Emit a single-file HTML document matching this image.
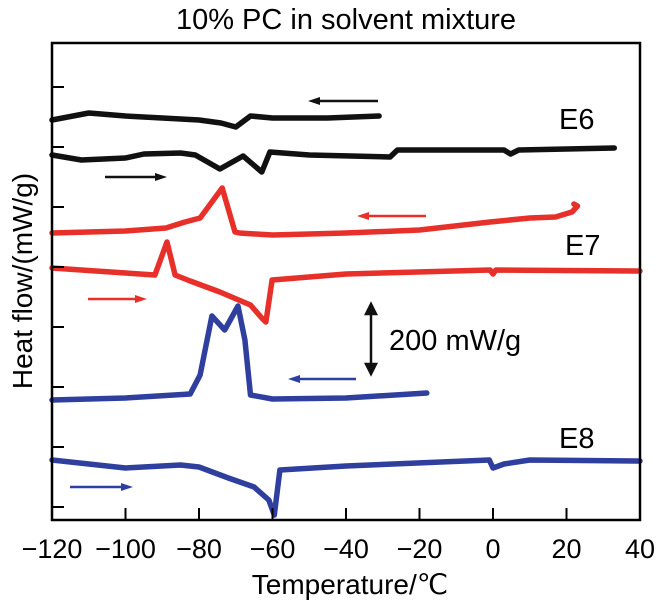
<!DOCTYPE html>
<html><head><meta charset="utf-8"><style>
body{margin:0;background:#fff}
svg{display:block;font-family:"Liberation Sans",sans-serif}
</style></head><body>
<svg id="chart" width="668" height="610" viewBox="0 0 668 610" xmlns="http://www.w3.org/2000/svg">
<text x="346" y="29" font-size="29" text-anchor="middle">10% PC in solvent mixture</text>
<g id="marks"></g>
<rect x="52" y="43" width="588" height="477" fill="none" stroke="#000" stroke-width="2.5"/>
<g id="ticks"></g>
<text transform="translate(32,281) rotate(-90)" font-size="28" text-anchor="middle">Heat flow/(mW/g)</text>
<text x="350" y="594" font-size="28" text-anchor="middle">Temperature/<tspan font-family="Liberation Serif,serif">℃</tspan></text>
<text x="559" y="129" font-size="29">E6</text>
<text x="565" y="255" font-size="29">E7</text>
<text x="559" y="448" font-size="29">E8</text>
<text x="389" y="350" font-size="29">200 mW/g</text>
<g stroke="#111" stroke-width="2.5" fill="#111">
<line x1="371" y1="310" x2="371" y2="368"/>
<polygon points="366,314 371,304 376,314"/><polygon points="366,364 371,374 376,364"/>
</g>
<g id="arrows"></g>
</svg>
<script>
const xTicks=[-120,-100,-80,-60,-40,-20,0,20,40];
const yTicks=[1,2,3,4,5,6,7,8];
// temperature (°C) and heat-flow offset (arbitrary units, 0 = bottom of frame)
const e6CoolT=[-120,-110,-100,-90,-80,-74,-70,-66,-60,-45,-31];
const e6CoolV=[400,407,404,402,400,397,393,404,402,402,404];
const e6HeatT=[-120,-112,-100,-95,-85,-81,-74.3,-68,-62.9,-60.7,-50,-28,-26,0,3,4.8,7,33];
const e6HeatV=[365,360,362,366,367,365,351,364,348,368,365,363,370,370,370,366,370,372];
const e7CoolT=[-120,-100,-89,-83.8,-79.7,-73.7,-70.2,-69,-60,-40,-20,-0.8,10,17,21.5,23,22];
const e7CoolV=[287,289,292,298,302,332,288,287,285,287,290,298,302,303,308,314,316];
const e7HeatT=[-120,-100,-92,-88.7,-86.5,-82.4,-74.3,-66,-62.9,-61.8,-60.1,-40,-0.8,0,0.8,40];
const e7HeatV=[252,247,245,278,245,239,228,215,202,198,240,246,250,246,250,249];
const e8CoolT=[-120,-100,-82.4,-79.7,-76.5,-73,-69.4,-67.5,-66,-60,-40,-18];
const e8CoolV=[120,122,126,145,204,190,214,180,125,121,122,127];
const e8HeatT=[-120,-100,-85,-80,-72,-65,-61,-59.5,-58,-40,-1,0,3,10,40];
const e8HeatV=[60,52,55,53,42,33,20,5,50,54,60,52,56,60,59];

const X0=52,X1=640,Y0=520,Y1=43;
const xs=t=>X0+(t+120)/160*(X1-X0);
const ys=v=>Y0-v*(Y0-Y1)/477;
const NS="http://www.w3.org/2000/svg";
const marks=document.getElementById('marks');
function series(T,V,color,name){
  const p=document.createElementNS(NS,'path');
  p.setAttribute('d',T.map((t,i)=>(i?'L':'M')+xs(t).toFixed(1)+' '+ys(V[i]).toFixed(1)).join(' '));
  p.setAttribute('fill','none');p.setAttribute('stroke',color);p.setAttribute('stroke-width','5.5');
  p.setAttribute('stroke-linejoin','round');p.setAttribute('stroke-linecap','round');
  
  
  marks.appendChild(p);
}
series(e6CoolT,e6CoolV,'#111','e6-cooling-curve');
series(e6HeatT,e6HeatV,'#111','e6-heating-curve');
series(e7CoolT,e7CoolV,'#e8302a','e7-cooling-curve');
series(e7HeatT,e7HeatV,'#e8302a','e7-heating-curve');
series(e8CoolT,e8CoolV,'#2f3f9e','e8-cooling-curve');
series(e8HeatT,e8HeatV,'#2f3f9e','e8-heating-curve');

const tk=document.getElementById('ticks');
xTicks.forEach(t=>{
  const l=document.createElementNS(NS,'line');
  l.setAttribute('x1',xs(t));l.setAttribute('x2',xs(t));l.setAttribute('y1',Y0);l.setAttribute('y2',Y0-12);
  l.setAttribute('stroke','#000');l.setAttribute('stroke-width','2');
  
  
  tk.appendChild(l);
  const tx=document.createElementNS(NS,'text');
  tx.setAttribute('x',xs(t));tx.setAttribute('y',558);tx.setAttribute('font-size','27');tx.setAttribute('text-anchor','middle');
  tx.textContent=(t<0?'\u2212':'')+Math.abs(t);
  
  
  tk.appendChild(tx);
});
yTicks.forEach(k=>{
  const y=507-(k-1)*60;
  const l=document.createElementNS(NS,'line');
  l.setAttribute('x1',X0);l.setAttribute('x2',X0+12);l.setAttribute('y1',y);l.setAttribute('y2',y);
  l.setAttribute('stroke','#000');l.setAttribute('stroke-width','2');
  
  
  tk.appendChild(l);
});
const ar=document.getElementById('arrows');
function arrow(x1,x2,y,color,name){
  const g=document.createElementNS(NS,'g');
  
  
  const d=x2>x1?1:-1;
  g.innerHTML='<line x1="'+x1+'" y1="'+y+'" x2="'+(x2-d*8)+'" y2="'+y+'" stroke="'+color+'" stroke-width="2.5"/>'+
    '<polygon points="'+x2+','+y+' '+(x2-d*12)+','+(y-4)+' '+(x2-d*12)+','+(y+4)+'" fill="'+color+'"/>';
  ar.appendChild(g);
}
arrow(378,308,101,'#111','e6-cooling-arrow');
arrow(105,167,177,'#111','e6-heating-arrow');
arrow(426,357,216,'#e8302a','e7-cooling-arrow');
arrow(88,147,299,'#e8302a','e7-heating-arrow');
arrow(356,288,379,'#2f3f9e','e8-cooling-arrow');
arrow(70,133,487,'#2f3f9e','e8-heating-arrow');
</script>
</body></html>
